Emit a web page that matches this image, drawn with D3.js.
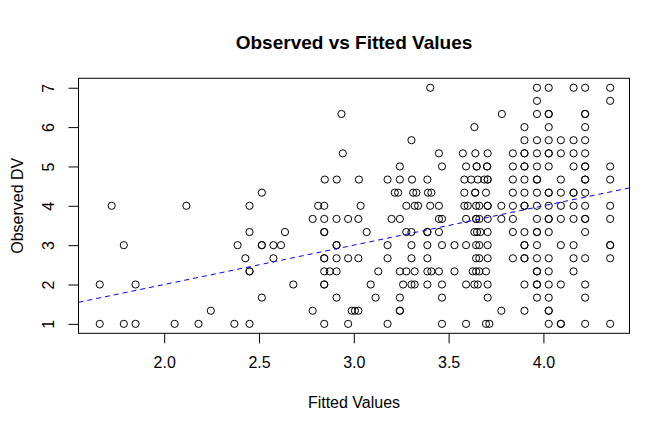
<!DOCTYPE html>
<html>
<head>
<meta charset="utf-8">
<script src="https://cdn.jsdelivr.net/npm/d3@7"></script>
<style>
  body { margin: 0; background: #fff; }
  text { font-family: "Liberation Sans", Arial, Helvetica, sans-serif; fill: #000; }
</style>
</head>
<body>
<div id="chart"></div>
<script>
// observed DV takes steps of 1/3, so points are kept per observed level
var obsLevels = [7, 20/3, 19/3, 6, 17/3, 16/3, 5, 14/3, 13/3, 4, 11/3, 10/3, 3, 8/3, 7/3, 2, 5/3, 4/3, 1];

var fittedByLevel = [
  [3.403, 3.966, 4.028, 4.159, 4.22, 4.352],
  [3.966, 4.352],
  [2.935, 3.781, 3.966, 4.028, 4.028, 4.22, 4.22],
  [3.636, 3.9, 4.028, 4.22],
  [3.304, 3.9, 3.966, 4.028, 4.092, 4.159, 4.22],
  [2.942, 3.449, 3.575, 3.641, 3.706, 3.839, 3.9, 3.9, 3.966, 4.028, 4.028, 4.092, 4.159, 4.22],
  [3.243, 3.465, 3.592, 3.648, 3.648, 3.703, 3.703, 3.839, 3.9, 3.9, 3.966, 4.028, 4.159, 4.22, 4.22, 4.352],
  [2.847, 2.91, 3.027, 3.178, 3.243, 3.307, 3.388, 3.583, 3.619, 3.654, 3.688, 3.706, 3.706, 3.839, 3.9, 3.966, 3.966, 4.092, 4.22, 4.22, 4.352],
  [2.515, 3.216, 3.234, 3.313, 3.33, 3.391, 3.409, 3.583, 3.64, 3.64, 3.697, 3.839, 3.9, 3.966, 4.028, 4.028, 4.092, 4.159, 4.159, 4.22],
  [1.723, 2.117, 2.45, 2.812, 2.844, 3.036, 3.277, 3.321, 3.339, 3.403, 3.449, 3.583, 3.601, 3.645, 3.662, 3.706, 3.706, 3.778, 3.839, 3.9, 3.9, 3.966, 4.028, 4.092, 4.159, 4.22, 4.352],
  [2.783, 2.844, 2.909, 2.97, 3.024, 3.199, 3.243, 3.449, 3.465, 3.592, 3.645, 3.645, 3.662, 3.706, 3.778, 3.839, 3.966, 4.028, 4.028, 4.092, 4.159, 4.22, 4.22, 4.352],
  [2.45, 2.637, 2.844, 2.844, 3.068, 3.277, 3.304, 3.388, 3.388, 3.449, 3.636, 3.65, 3.667, 3.706, 3.839, 3.9, 3.966, 3.966, 4.028, 4.22],
  [1.787, 2.387, 2.515, 2.515, 2.576, 2.616, 2.909, 2.909, 3.178, 3.304, 3.388, 3.465, 3.531, 3.592, 3.645, 3.662, 3.706, 3.9, 3.9, 3.966, 4.092, 4.159, 4.352, 4.352],
  [2.428, 2.576, 2.844, 2.844, 2.909, 2.97, 3.024, 3.178, 3.304, 3.388, 3.645, 3.662, 3.706, 3.839, 3.9, 3.9, 3.966, 4.028, 4.159, 4.22, 4.352],
  [2.45, 2.45, 2.844, 2.873, 2.909, 3.129, 3.243, 3.277, 3.321, 3.388, 3.409, 3.449, 3.531, 3.627, 3.645, 3.662, 3.697, 3.966, 3.966, 4.028, 4.159],
  [1.66, 1.849, 2.681, 2.844, 2.844, 3.089, 3.26, 3.304, 3.321, 3.388, 3.465, 3.592, 3.636, 3.654, 3.706, 3.9, 3.966, 3.966, 4.028, 4.092, 4.22],
  [2.515, 2.909, 3.115, 3.243, 3.465, 3.706, 3.966, 4.028, 4.22],
  [2.246, 2.783, 2.989, 3.006, 3.024, 3.243, 3.243, 3.778, 3.9, 4.028, 4.028],
  [1.66, 1.787, 1.849, 2.055, 2.181, 2.37, 2.45, 2.844, 2.97, 3.178, 3.465, 3.592, 3.697, 3.715, 4.028, 4.092, 4.092, 4.22, 4.352]
];

var xTicks = [2.0, 2.5, 3.0, 3.5, 4.0];
var yTicks = [1, 2, 3, 4, 5, 6, 7];

// reference line (abline): intercept, slope
var refLine = [0, 1];

var width = 672, height = 432;
var box = { left: 78.5, right: 629.5, top: 78.3, bottom: 333.3 };

var points = [];
obsLevels.forEach(function(lv, i){
	fittedByLevel[i].forEach(function(f){
		points.push({ fitted: f, observed: lv });
	});
});

var x = d3.scaleLinear().domain([1.548, 4.454]).range([box.left, box.right]);
var y = d3.scaleLinear().domain([0.76, 7.24]).range([box.bottom, box.top]);

var svg = d3.select("#chart")
	.append("svg")
	.attr("width", width)
	.attr("height", height);

svg.append("defs").append("clipPath")
	.attr("id", "plotclip")
	.append("rect")
		.attr("x", box.left)
		.attr("y", box.top)
		.attr("width", box.right - box.left)
		.attr("height", box.bottom - box.top);

// points
svg.append("g")
	.selectAll("circle")
	.data(points)
	.enter()
	.append("circle")
		.attr("cx", function(d){ return x(d.fitted); })
		.attr("cy", function(d){ return y(d.observed); })
		.attr("r", 3.6)
		.attr("fill", "none")
		.attr("stroke", "#000")
		.attr("stroke-width", 1);

// dashed fit line
var x0 = x.domain()[0], x1 = x.domain()[1];
svg.append("line")
	.attr("clip-path", "url(#plotclip)")
	.attr("x1", x(x0))
	.attr("y1", y(refLine[0] + refLine[1] * x0))
	.attr("x2", x(x1))
	.attr("y2", y(refLine[0] + refLine[1] * x1))
	.attr("stroke", "#0000ff")
	.attr("stroke-width", 1)
	.attr("stroke-dasharray", "5,4");

// box
svg.append("rect")
	.attr("x", box.left)
	.attr("y", box.top)
	.attr("width", box.right - box.left)
	.attr("height", box.bottom - box.top)
	.attr("fill", "none")
	.attr("stroke", "#000")
	.attr("stroke-width", 1);

// x axis
var xAxis = svg.append("g")
	.attr("transform", "translate(0," + box.bottom + ")")
	.call(d3.axisBottom(x)
		.tickValues(xTicks)
		.tickFormat(d3.format(".1f"))
		.tickSize(10)
		.tickSizeOuter(0)
		.tickPadding(13.5));
xAxis.select(".domain").remove();
xAxis.selectAll("line").attr("stroke", "#000");
xAxis.selectAll("text")
	.attr("font-size", "16px")
	.style("font-family", "'Liberation Sans', Arial, sans-serif")
	.attr("fill", "#000");

// y axis, labels rotated like R's default
var yAxis = svg.append("g")
	.attr("transform", "translate(" + box.left + ",0)")
	.call(d3.axisLeft(y)
		.tickValues(yTicks)
		.tickFormat(d3.format("d"))
		.tickSize(10)
		.tickSizeOuter(0));
yAxis.select(".domain").remove();
yAxis.selectAll("line").attr("stroke", "#000");
yAxis.selectAll("text")
	.attr("x", 0)
	.attr("dy", 0)
	.attr("text-anchor", "middle")
	.attr("transform", "translate(" + (53.5 - box.left) + ",0) rotate(-90)")
	.attr("font-size", "16px")
	.style("font-family", "'Liberation Sans', Arial, sans-serif")
	.attr("fill", "#000");

// titles
var cx = (box.left + box.right) / 2;
svg.append("text")
	.attr("x", cx)
	.attr("y", 49)
	.attr("text-anchor", "middle")
	.attr("font-size", "19px")
	.attr("font-weight", "bold")
	.text("Observed vs Fitted Values");

svg.append("text")
	.attr("x", cx)
	.attr("y", 408)
	.attr("text-anchor", "middle")
	.attr("font-size", "16px")
	.text("Fitted Values");

svg.append("text")
	.attr("transform", "translate(23," + ((box.top + box.bottom) / 2) + ") rotate(-90)")
	.attr("text-anchor", "middle")
	.attr("font-size", "16px")
	.text("Observed DV");
</script>
</body>
</html>
